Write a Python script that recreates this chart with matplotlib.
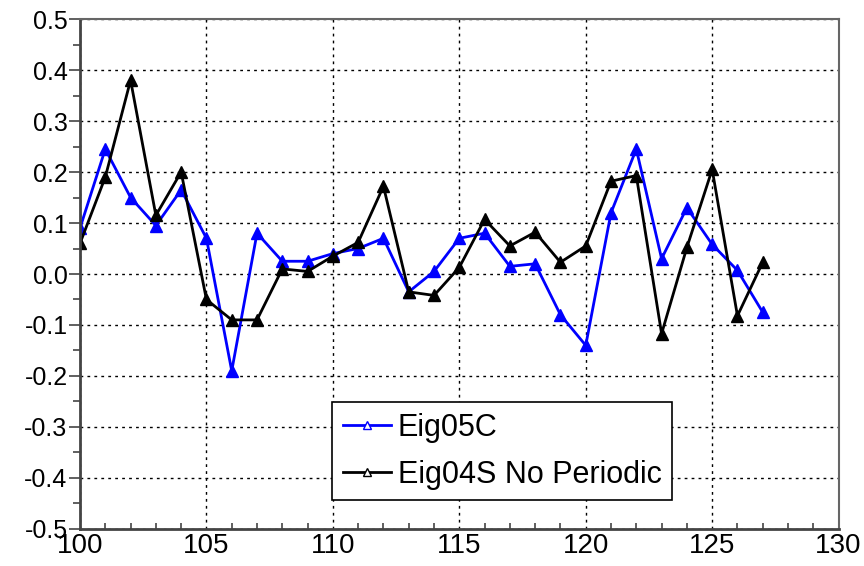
import matplotlib
matplotlib.use("Agg")
import matplotlib.pyplot as plt
from matplotlib.ticker import MultipleLocator

plt.rcParams['font.family'] = ['Liberation Sans', 'DejaVu Sans']

# Données
x = list(range(100, 128))
eig05c = [0.09, 0.245, 0.15, 0.095, 0.165, 0.07, -0.19, 0.08, 0.025, 0.025,
          0.04, 0.05, 0.07, -0.035, 0.005, 0.07, 0.08, 0.015, 0.02, -0.08,
          -0.14, 0.12, 0.245, 0.03, 0.13, 0.058, 0.007, -0.075]
eig04s = [0.06, 0.19, 0.38, 0.115, 0.2, -0.05, -0.09, -0.09, 0.01, 0.005,
          0.035, 0.062, 0.172, -0.035, -0.042, 0.013, 0.107, 0.055, 0.082, 0.023,
          0.055, 0.182, 0.193, -0.117, 0.052, 0.205, -0.082, 0.023]
labels = ['Eig05C', 'Eig04S No Periodic']

fig = plt.figure(figsize=(8.64, 5.66), dpi=100)
ax = fig.add_axes([0.0926, 0.0654, 0.878, 0.901])

ax.plot(x, eig05c, color='#0000ff', lw=2, marker='^', ms=9, label=labels[0])
ax.plot(x, eig04s, color='black', lw=2, marker='^', ms=9, label=labels[1])

ax.set_xlim(100, 130)
ax.set_ylim(-0.5, 0.5)
ax.xaxis.set_major_locator(MultipleLocator(5))
ax.xaxis.set_minor_locator(MultipleLocator(1))
ax.yaxis.set_major_locator(MultipleLocator(0.1))
ax.yaxis.set_minor_locator(MultipleLocator(0.05))
ax.yaxis.set_major_formatter(plt.FuncFormatter(lambda v, p: f"{v:.1f}"))

ax.grid(True, which='major', color='black', linestyle=(0, (2, 3)), lw=1.0)
ax.tick_params(axis='y', which='major', direction='out', length=8, width=1.2,
               labelsize=18, color='#444444', pad=1)
ax.tick_params(axis='y', which='minor', direction='out', length=5, width=1.2,
               color='#444444')
ax.tick_params(axis='x', which='major', direction='in', length=0,
               labelsize=20, color='#444444', pad=3)
ax.tick_params(axis='x', which='minor', direction='in', length=4, width=1.2,
               color='#444444')

for s in ['left', 'bottom']:
    ax.spines[s].set_linewidth(2)
    ax.spines[s].set_color('#444444')
for s in ['top', 'right']:
    ax.spines[s].set_linewidth(1.5)
    ax.spines[s].set_color('#666666')

leg = ax.legend(loc='upper left', bbox_to_anchor=(0.332, 0.249), fontsize=22,
                frameon=True, fancybox=False, handlelength=1.6, handletextpad=0.2,
                borderpad=0.35, labelspacing=0.55, borderaxespad=0, framealpha=1)
leg.get_frame().set_edgecolor('black')
leg.get_frame().set_linewidth(1.2)
for ln in leg.get_lines():
    ln.set_markersize(6)
    ln.set_markerfacecolor('white')

plt.savefig('out.png', dpi=100)
